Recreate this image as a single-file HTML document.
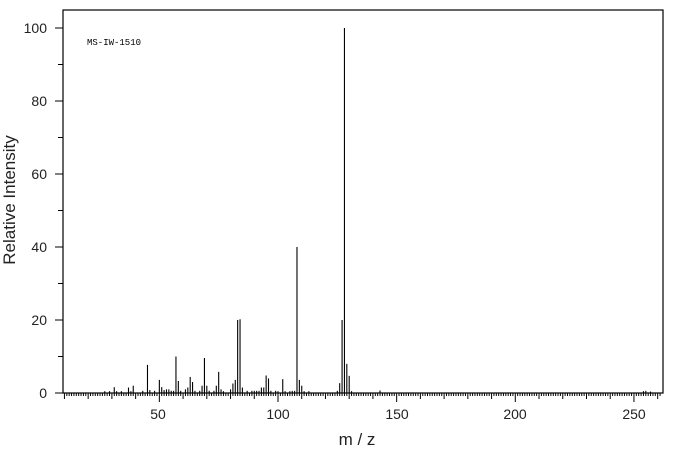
<!DOCTYPE html><html><head><style>body{margin:0;background:#fff}svg{display:block}</style></head><body>
<svg width="676" height="455" xmlns="http://www.w3.org/2000/svg" font-family="Liberation Sans, sans-serif">
<rect x="63" y="10" width="600" height="383" fill="none" stroke="#000" stroke-width="1.2"/>
<g id="t" stroke="#000" stroke-width="1"></g>
<g id="p" stroke="#000" stroke-width="1.1"></g>
<g font-size="14" fill="#222" text-anchor="end">
<text x="47" y="398">0</text><text x="47" y="325">20</text><text x="47" y="252">40</text><text x="47" y="179">60</text><text x="47" y="106">80</text><text x="47" y="33">100</text>
</g>
<g font-size="14" fill="#222" text-anchor="middle">
<text x="158" y="419">50</text><text x="278" y="419">100</text><text x="397" y="419">150</text><text x="515" y="419">200</text><text x="634" y="419">250</text>
<text x="357" y="445" font-size="17">m / z</text>
</g>
<text x="15" y="200" font-size="17" fill="#222" text-anchor="middle" transform="rotate(-90 15 200)">Relative Intensity</text>
<text x="87" y="45" font-size="9" font-family="Liberation Mono, monospace" fill="#000">MS-IW-1510</text>
</svg>
<script>
var X=m=>40.7+2.373*m,Y=v=>393-3.65*v,ns="http://www.w3.org/2000/svg";
function L(g,x1,y1,x2,y2){var l=document.createElementNS(ns,"line");l.setAttribute("x1",x1);l.setAttribute("y1",y1);l.setAttribute("x2",x2);l.setAttribute("y2",y2);document.getElementById(g).appendChild(l);}
for(var m=10;m<=261;m++){var len=m%50==0?9:m%10==0?6:3;L("t",X(m),393,X(m),393+len);}
for(var v=0;v<=100;v+=10){L("t",63,Y(v),v%20==0?55:58,Y(v));}
var pk=[[27,.5],[29,.5],[31,1.6],[32,.5],[34,.5],[37,1.5],[38,.5],[39,2],[43,.6],[45,7.7],[46,.8],[48,.6],[50,3.6],[51,1.6],[52,.8],[53,1],[54,1],[55,.6],[56,.6],[57,10],[58,3.3],[59,.6],[61,1],[62,1.5],[63,4.4],[64,3],[65,.6],[67,.6],[68,2],[69,9.6],[70,2],[71,.6],[73,.6],[74,2],[75,5.8],[76,1],[77,.5],[80,1],[81,2.6],[82,3.6],[83,20],[84,20.2],[85,1.5],[87,.6],[89,.6],[90,.6],[91,.6],[92,.6],[93,1.5],[94,1.5],[95,4.8],[96,4],[97,.6],[99,.6],[100,.5],[102,3.8],[103,.5],[105,.5],[106,.6],[107,.6],[108,40],[109,3.6],[110,2],[111,.5],[113,.5],[125,.6],[126,2.7],[127,20],[128,100],[129,8],[130,4.7],[131,.5],[143,.7],[254,.5],[255,.6],[257,.4]];
pk.forEach(p=>L("p",X(p[0]),393,X(p[0]),Y(p[1])));
</script>
</body></html>
